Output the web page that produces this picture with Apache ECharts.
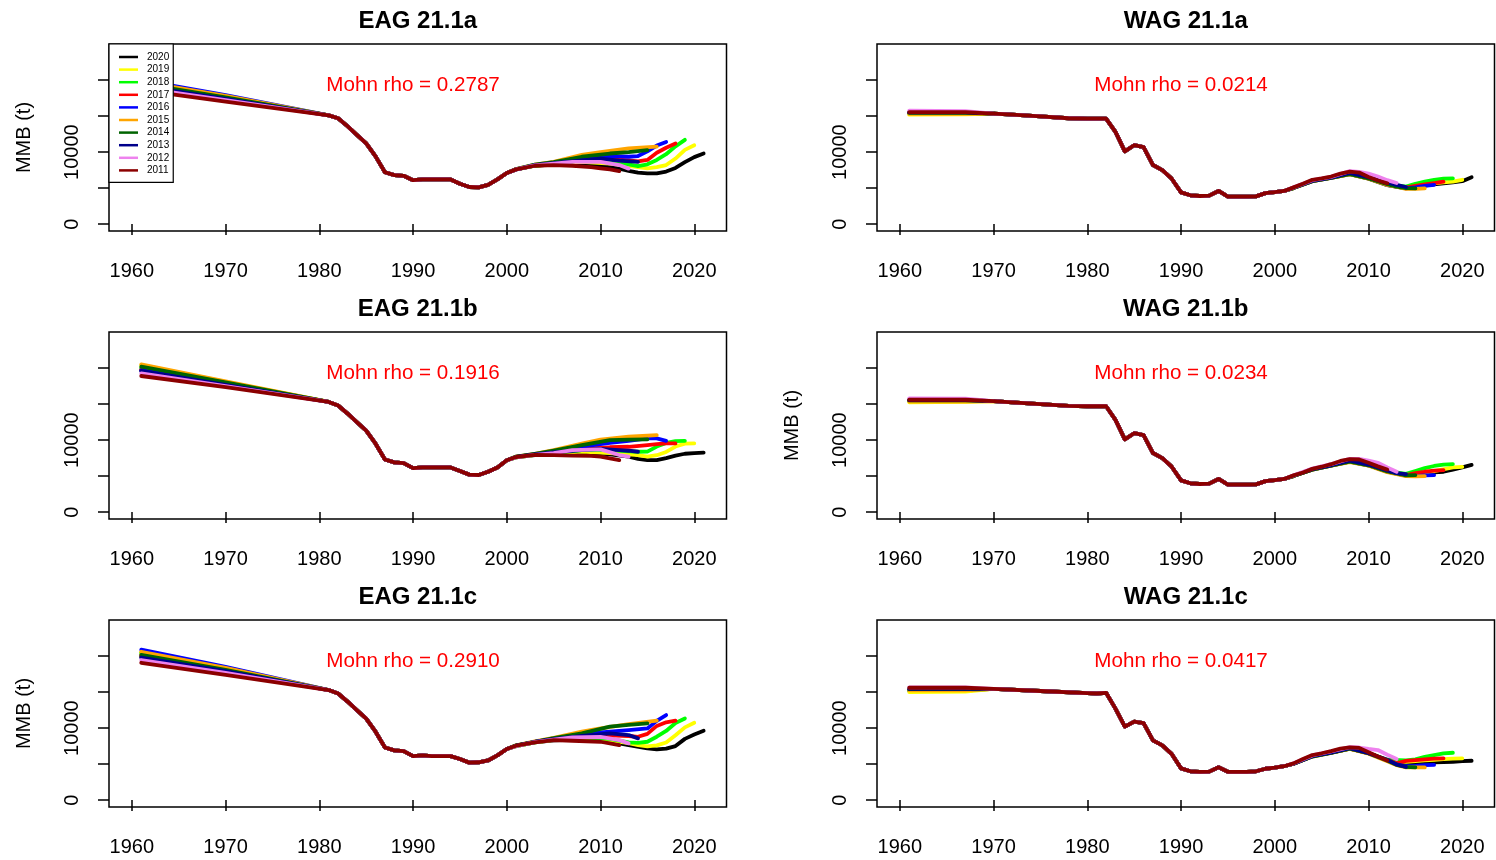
<!DOCTYPE html>
<html><head><meta charset="utf-8">
<script src="https://cdn.jsdelivr.net/npm/echarts@6/dist/echarts.min.js"></script>
<style>html,body{margin:0;padding:0;background:#fff}#c{width:1496px;height:860px}</style>
</head><body><div id="c"></div>
<script>
// ---------- DATA ----------
const runNames = ['2020','2019','2018','2017','2016','2015','2014','2013','2012','2011'];
const runColors = ['#000000','#FFFF00','#00FF00','#FF0000','#0000FF','#FFA500','#006400','#00008B','#EE82EE','#8B0000'];
const xTicks = [1960,1970,1980,1990,2000,2010,2020];
const yTicks = [0,5000,10000,15000,20000];
const yTickLabels = [0,10000];
const panelTitles = ['EAG 21.1a','EAG 21.1b','EAG 21.1c','WAG 21.1a','WAG 21.1b','WAG 21.1c'];
const mohnRho = ['0.2787','0.1916','0.2910','0.0214','0.0234','0.0417'];

const eagHeadYears = [1961, 1970];
const wagHeadYears = [1961, 1967];

// EAG 21.1a
const eagA_head = [[19300,17500],[19700,17700],[19600,17650],[19300,17450],[20000,17900],[19800,17800],[19500,17600],[19200,17400],[18900,17200],[18600,17000]];
const eagA_core = [[1981,15100],[1982,14700],[1983,13600],[1984,12400],[1985,11200],[1986,9400],[1987,7200],[1988,6800],[1989,6700],[1990,6100],[1991,6200],[1992,6200],[1993,6200],[1994,6200],[1995,5600],[1996,5150],[1997,5100],[1998,5450],[1999,6200],[2000,7100]];
const eagA_tails = [
 [[2001,7600],[2003,8100],[2005,8300],[2008,8450],[2011,8000],[2013,7400],[2014,7150],[2015,7050],[2016,7050],[2017,7300],[2018,7800],[2019,8600],[2020,9300],[2021,9800]],
 [[2001,7600],[2003,8100],[2005,8350],[2008,8650],[2011,8400],[2013,8100],[2014,7900],[2015,7750],[2016,7900],[2017,8200],[2018,9100],[2019,10300],[2020,10950]],
 [[2001,7600],[2003,8100],[2005,8400],[2008,8850],[2011,8700],[2013,8300],[2014,8050],[2015,8300],[2016,8900],[2017,9700],[2018,10800],[2019,11700]],
 [[2001,7600],[2003,8150],[2005,8450],[2008,9000],[2011,9050],[2013,8850],[2014,8700],[2015,8900],[2016,9900],[2017,10600],[2018,11200]],
 [[2001,7600],[2003,8150],[2005,8500],[2008,9200],[2011,9450],[2013,9350],[2014,9450],[2015,10100],[2016,10900],[2017,11400]],
 [[2001,7650],[2003,8250],[2005,8650],[2008,9600],[2010,10000],[2013,10500],[2016,10750]],
 [[2001,7650],[2003,8250],[2005,8600],[2008,9350],[2011,9800],[2013,10000],[2015,10280]],
 [[2001,7600],[2003,8200],[2005,8450],[2008,8850],[2010,9100],[2012,8800],[2014,8650]],
 [[2001,7600],[2003,8150],[2005,8400],[2007,8650],[2010,8650],[2012,8200],[2013,7700]],
 [[2001,7600],[2003,8100],[2005,8200],[2007,8100],[2009,7900],[2010,7750],[2011,7600],[2012,7350]]
];

// EAG 21.1b
const eagB_head = [[19700,17700],[20400,18100],[20000,17900],[19800,17800],[19700,17750],[20500,18150],[20200,18000],[19600,17650],[19250,17500],[18900,17350]];
const eagB_core = [[1981,15300],[1982,14800],[1983,13700],[1984,12500],[1985,11300],[1986,9500],[1987,7300],[1988,6900],[1989,6800],[1990,6100],[1991,6200],[1992,6200],[1993,6200],[1994,6200],[1995,5700],[1996,5200],[1997,5150],[1998,5600],[1999,6200],[2000,7200]];
const eagB_tails = [
 [[2001,7600],[2003,7900],[2005,8100],[2008,8300],[2011,8000],[2013,7700],[2014,7400],[2015,7220],[2016,7220],[2017,7500],[2018,7850],[2019,8100],[2020,8200],[2021,8250]],
 [[2001,7600],[2003,7950],[2005,8150],[2008,8400],[2011,8200],[2013,8000],[2014,7900],[2015,7700],[2016,7900],[2017,8350],[2018,9100],[2019,9500],[2020,9550]],
 [[2001,7600],[2003,7950],[2005,8200],[2008,8600],[2011,8600],[2013,8450],[2014,8380],[2015,8400],[2016,9100],[2017,9600],[2018,9850],[2019,9900]],
 [[2001,7650],[2003,8000],[2005,8300],[2008,8800],[2011,9000],[2013,9070],[2015,9310],[2016,9450],[2017,9540],[2018,9540]],
 [[2001,7650],[2003,8050],[2005,8400],[2008,9100],[2011,9600],[2013,9900],[2015,10240],[2016,10240],[2017,9900]],
 [[2001,7700],[2003,8100],[2005,8600],[2008,9500],[2010,10050],[2013,10460],[2016,10700]],
 [[2001,7700],[2003,8100],[2005,8550],[2008,9310],[2011,10000],[2013,10050],[2015,10100]],
 [[2001,7650],[2003,8000],[2005,8300],[2008,8600],[2010,8790],[2012,8600],[2013,8520],[2014,8380]],
 [[2001,7600],[2003,7950],[2005,8200],[2007,8610],[2010,8700],[2012,7920],[2013,7690]],
 [[2001,7650],[2003,7950],[2005,7900],[2007,7850],[2009,7800],[2010,7690],[2011,7450],[2012,7220]]
];

// EAG 21.1c
const eagC_head = [[19900,17900],[20500,18300],[20400,18200],[20100,18050],[20900,18500],[20600,18350],[20150,18100],[19800,17900],[19450,17650],[19070,17400]];
const eagC_core = [[1981,15280],[1982,14800],[1983,13700],[1984,12500],[1985,11300],[1986,9500],[1987,7300],[1988,6900],[1989,6800],[1990,6100],[1991,6200],[1992,6100],[1993,6100],[1994,6100],[1995,5700],[1996,5200],[1997,5250],[1998,5500],[1999,6200],[2000,7100]];
const eagC_tails = [
 [[2001,7500],[2003,8000],[2005,8300],[2008,8400],[2011,8100],[2013,7640],[2015,7180],[2016,7040],[2017,7150],[2018,7500],[2019,8500],[2020,9100],[2021,9630]],
 [[2001,7500],[2003,8000],[2005,8350],[2008,8550],[2011,8300],[2013,7900],[2014,7640],[2015,7450],[2016,7600],[2017,8000],[2018,9000],[2019,10100],[2020,10740]],
 [[2001,7500],[2003,8000],[2005,8400],[2008,8700],[2011,8500],[2013,8000],[2014,7950],[2015,8100],[2016,8800],[2017,9600],[2018,10700],[2019,11340]],
 [[2001,7550],[2003,8050],[2005,8450],[2008,8900],[2011,9000],[2013,8900],[2014,8790],[2015,9200],[2016,10300],[2017,10800],[2018,11020]],
 [[2001,7550],[2003,8050],[2005,8500],[2008,9200],[2011,9500],[2013,9720],[2015,9950],[2016,11000],[2017,11810]],
 [[2001,7600],[2003,8150],[2005,8650],[2008,9500],[2010,9950],[2013,10560],[2016,11020]],
 [[2001,7600],[2003,8100],[2005,8600],[2008,9260],[2011,10190],[2013,10450],[2015,10650]],
 [[2001,7550],[2003,8100],[2005,8450],[2008,8900],[2011,9260],[2013,9030],[2014,8570]],
 [[2001,7500],[2003,8050],[2005,8400],[2007,8700],[2010,8790],[2012,8330],[2013,7870]],
 [[2001,7550],[2003,8000],[2005,8330],[2007,8240],[2010,8100],[2011,7870],[2012,7640]]
];

// WAG 21.1a
const wagA_head = [[15450,15450],[15200,15250],[15400,15400],[15450,15450],[15500,15500],[15300,15300],[15450,15450],[15500,15500],[15750,15700],[15550,15550]];
const wagA_core = [[1970,15350],[1972,15200],[1975,14950],[1978,14700],[1980,14650],[1982,14650],[1983,12800],[1984,10100],[1985,10950],[1986,10700],[1987,8200],[1988,7500],[1989,6300],[1990,4400],[1991,4000],[1992,3900],[1993,3950],[1994,4600],[1995,3800],[1996,3800],[1997,3800],[1998,3850],[1999,4300],[2000,4450],[2001,4600]];
const wagA_tails = [
 [[2002,5000],[2004,5950],[2006,6400],[2008,6950],[2010,6300],[2012,5400],[2014,4950],[2015,5200],[2017,5500],[2019,5800],[2020,5950],[2021,6500]],
 [[2002,5050],[2004,6000],[2006,6450],[2008,7000],[2010,6350],[2012,5450],[2014,5050],[2016,5500],[2018,5800],[2019,5900],[2020,6150]],
 [[2002,5050],[2004,6000],[2006,6450],[2008,7050],[2010,6400],[2012,5550],[2014,5200],[2015,5600],[2016,5900],[2017,6150],[2018,6300],[2019,6350]],
 [[2002,5050],[2004,6000],[2006,6450],[2008,7000],[2010,6400],[2012,5500],[2014,5050],[2015,5300],[2016,5500],[2017,5700],[2018,5880]],
 [[2002,5050],[2004,6000],[2006,6450],[2008,7000],[2010,6350],[2012,5450],[2014,4950],[2015,5100],[2016,5300],[2017,5450]],
 [[2002,5000],[2004,5950],[2006,6400],[2008,6900],[2010,6300],[2012,5450],[2014,4900],[2015,4900],[2016,4960]],
 [[2002,5000],[2004,5950],[2006,6400],[2008,6950],[2010,6350],[2012,5550],[2013,5200],[2014,5000],[2015,4960]],
 [[2002,5050],[2004,6000],[2006,6450],[2008,7100],[2010,6500],[2012,5800],[2013,5450],[2014,5150]],
 [[2002,5100],[2004,6100],[2006,6550],[2008,7350],[2009,7250],[2010,7000],[2011,6600],[2012,6100],[2013,5700]],
 [[2002,5100],[2003,5600],[2004,6150],[2005,6350],[2006,6600],[2007,7000],[2008,7270],[2009,7150],[2010,6550],[2011,6050],[2012,5650]]
];

// WAG 21.1b
const wagB_head = [[15500,15500],[15250,15300],[15450,15450],[15500,15500],[15550,15550],[15350,15350],[15500,15500],[15550,15550],[15800,15750],[15600,15600]];
const wagB_core = [[1970,15400],[1972,15250],[1975,15000],[1978,14750],[1980,14700],[1982,14700],[1983,12800],[1984,10100],[1985,10950],[1986,10700],[1987,8200],[1988,7500],[1989,6300],[1990,4400],[1991,4000],[1992,3900],[1993,3950],[1994,4600],[1995,3800],[1996,3800],[1997,3800],[1998,3850],[1999,4300],[2000,4450],[2001,4600]];
const wagB_tails = [
 [[2002,5000],[2004,5900],[2006,6450],[2008,7000],[2010,6500],[2012,5600],[2014,5050],[2015,5200],[2017,5500],[2018,5600],[2019,5900],[2020,6200],[2021,6550]],
 [[2002,5050],[2004,5950],[2006,6500],[2008,7050],[2010,6550],[2012,5650],[2014,5150],[2015,5300],[2017,5700],[2019,6200],[2020,6290]],
 [[2002,5050],[2004,5950],[2006,6500],[2008,7100],[2010,6600],[2012,5700],[2014,5300],[2015,5700],[2016,6100],[2017,6400],[2018,6600],[2019,6670]],
 [[2002,5050],[2004,5950],[2006,6500],[2008,7050],[2010,6550],[2012,5650],[2014,5150],[2015,5400],[2016,5600],[2017,5750],[2018,5830]],
 [[2002,5050],[2004,5950],[2006,6500],[2008,7050],[2010,6500],[2012,5600],[2014,5050],[2015,5000],[2016,5100],[2017,5140]],
 [[2002,5000],[2004,5900],[2006,6450],[2008,6950],[2010,6450],[2012,5550],[2014,5000],[2015,4950],[2016,5000]],
 [[2002,5000],[2004,5900],[2006,6450],[2008,7000],[2010,6500],[2012,5650],[2014,5100],[2015,5140]],
 [[2002,5050],[2004,5950],[2006,6500],[2008,7150],[2010,6600],[2012,5800],[2013,5400],[2014,5280]],
 [[2002,5100],[2004,6050],[2006,6650],[2008,7400],[2009,7400],[2010,7150],[2011,6850],[2012,6200],[2013,5600]],
 [[2002,5100],[2003,5500],[2004,6000],[2005,6300],[2006,6650],[2007,7100],[2008,7350],[2009,7300],[2010,6850],[2011,6350],[2012,5900]]
];

// WAG 21.1c
const wagC_head = [[15200,15200],[15000,15050],[15300,15300],[15400,15400],[15350,15350],[15250,15250],[15400,15400],[15450,15450],[15650,15650],[15600,15600]];
const wagC_core = [[1970,15450],[1975,15150],[1980,14850],[1981,14800],[1982,14900],[1983,12700],[1984,10200],[1985,10900],[1986,10700],[1987,8300],[1988,7600],[1989,6400],[1990,4400],[1991,4000],[1992,3930],[1993,3950],[1994,4550],[1995,3930],[1996,3930],[1997,3930],[1998,4000],[1999,4350],[2000,4500],[2001,4700]];
const wagC_tails = [
 [[2002,5050],[2004,6100],[2006,6600],[2008,7150],[2010,6500],[2012,5500],[2013,5000],[2014,5100],[2015,5180],[2017,5250],[2019,5320],[2020,5400],[2021,5460]],
 [[2002,5050],[2004,6100],[2006,6600],[2008,7150],[2010,6500],[2012,5500],[2014,5300],[2016,5500],[2017,5600],[2018,5700],[2019,5750],[2020,5800]],
 [[2002,5050],[2004,6100],[2006,6600],[2008,7150],[2010,6550],[2012,5600],[2014,5500],[2015,5650],[2016,6000],[2017,6250],[2018,6500],[2019,6570]],
 [[2002,5050],[2004,6100],[2006,6600],[2008,7150],[2010,6500],[2012,5550],[2013,5100],[2014,5450],[2015,5550],[2016,5650],[2017,5750],[2018,5800]],
 [[2002,5050],[2004,6100],[2006,6600],[2008,7150],[2010,6500],[2012,5450],[2013,4900],[2014,4700],[2015,4750],[2016,4850],[2017,4900]],
 [[2002,5050],[2004,6050],[2006,6550],[2008,7100],[2010,6450],[2012,5400],[2013,4850],[2014,4550],[2015,4540],[2016,4540]],
 [[2002,5050],[2004,6050],[2006,6550],[2008,7150],[2010,6500],[2012,5500],[2013,4900],[2014,4600],[2015,4540]],
 [[2002,5050],[2004,6100],[2006,6600],[2008,7200],[2010,6500],[2012,5600],[2013,4950],[2014,4600]],
 [[2002,5100],[2004,6200],[2006,6750],[2008,7350],[2009,7300],[2010,7100],[2011,6950],[2012,6300],[2013,5700]],
 [[2002,5100],[2003,5700],[2004,6250],[2005,6500],[2006,6800],[2007,7150],[2008,7330],[2009,7250],[2010,6650],[2011,6050],[2012,5500]]
];

// ---------- LAYOUT ----------
const FONT = 'Liberation Sans, Arial, sans-serif';
const panels = [
  {head: eagA_head, hy: eagHeadYears, core: eagA_core, tails: eagA_tails, col: 0, row: 0, ylab: true},
  {head: eagB_head, hy: eagHeadYears, core: eagB_core, tails: eagB_tails, col: 0, row: 1, ylab: false},
  {head: eagC_head, hy: eagHeadYears, core: eagC_core, tails: eagC_tails, col: 0, row: 2, ylab: true},
  {head: wagA_head, hy: wagHeadYears, core: wagA_core, tails: wagA_tails, col: 1, row: 0, ylab: false},
  {head: wagB_head, hy: wagHeadYears, core: wagB_core, tails: wagB_tails, col: 1, row: 1, ylab: true},
  {head: wagC_head, hy: wagHeadYears, core: wagC_core, tails: wagC_tails, col: 1, row: 2, ylab: false}
];
const GL = [109, 877], GT = [44, 332, 620], GW = 617.5, GH = 187;
const XMIN = 1957.56, XMAX = 2023.44;

const grid = [], xAxis = [], yAxis = [], series = [], title = [];
panels.forEach((p, i) => {
  const left = GL[p.col], top = GT[p.row];
  grid.push({left: left, top: top, width: GW, height: GH, show: true, borderColor: '#000', borderWidth: 1.5, backgroundColor: 'transparent'});
  xAxis.push({
    gridIndex: i, type: 'value', min: XMIN, max: XMAX,
    axisLine: {show: false}, splitLine: {show: false},
    axisTick: {show: true, length: 11, customValues: xTicks, lineStyle: {color: '#000', width: 1.5}},
    axisLabel: {customValues: xTicks, margin: 30, fontSize: 20, color: '#000', fontFamily: FONT, formatter: v => String(v)}
  });
  yAxis.push({
    gridIndex: i, type: 'value', min: -962, max: 25010,
    axisLine: {show: false}, splitLine: {show: false},
    axisTick: {show: true, length: 11, customValues: yTicks, lineStyle: {color: '#000', width: 1.5}},
    axisLabel: {customValues: yTickLabels, rotate: 90, margin: 27, fontSize: 20, color: '#000', fontFamily: FONT, formatter: v => String(v)},
    name: p.ylab ? 'MMB (t)' : '', nameLocation: 'middle', nameRotate: 90, nameGap: 75,
    nameTextStyle: {fontSize: 20, color: '#000', fontFamily: FONT}
  });
  title.push({text: panelTitles[i], left: left + GW / 2, top: top - 35, textAlign: 'center', padding: 0,
    textStyle: {fontSize: 24, lineHeight: 24, fontWeight: 'bold', color: '#000', fontFamily: FONT}});
  title.push({text: 'Mohn rho = ' + mohnRho[i], left: left + (1990 - XMIN) / (XMAX - XMIN) * GW, top: top + 31, textAlign: 'center', padding: 0,
    textStyle: {fontSize: 20.6, lineHeight: 21, fontWeight: 'normal', color: '#FF0000', fontFamily: FONT}});
  runNames.forEach((nm, j) => {
    const data = p.head[j].map((v, k) => [p.hy[k], v]).concat(p.core, p.tails[j]);
    series.push({
      name: nm, type: 'line', xAxisIndex: i, yAxisIndex: i, data: data,
      symbol: 'none', showSymbol: false, silent: true, animation: false,
      lineStyle: {color: runColors[j], width: 3.8, cap: 'round', join: 'round'},
      itemStyle: {color: runColors[j]}, z: 2
    });
  });
});

const chart = echarts.init(document.getElementById('c'), null, {renderer: 'canvas'});
chart.setOption({
  backgroundColor: '#fff',
  animation: false,
  title: title,
  grid: grid, xAxis: xAxis, yAxis: yAxis, series: series,
  legend: {
    show: true, data: runNames, left: 109, top: 44, orient: 'vertical', icon: 'rect',
    backgroundColor: '#fff', borderColor: '#000', borderWidth: 1.2, borderRadius: 0,
    padding: [7, 4, 6, 10], itemWidth: 19, itemHeight: 2.5, itemGap: 0.6,
    selectedMode: false,
    textStyle: {fontSize: 10, lineHeight: 12, color: '#000', fontFamily: FONT, padding: [0, 0, 0, 4]}
  }
});
</script></body></html>
